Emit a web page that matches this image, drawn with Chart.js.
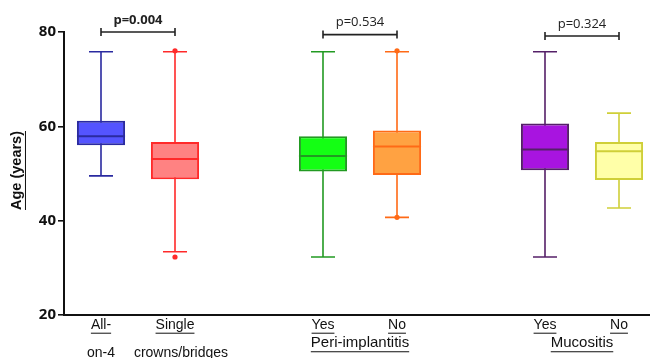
<!DOCTYPE html>
<html>
<head>
<meta charset="utf-8">
<script src="https://cdn.jsdelivr.net/npm/chart.js@4/dist/chart.umd.min.js"></script>
<style>
  body { margin: 0; background: #fff; overflow: hidden; }
  #wrap { width: 650px; height: 358px; overflow: hidden; }
</style>
</head>
<body>
<div id="wrap"><canvas id="chart" width="656" height="358"></canvas></div>
<script>
// groups (empty slots keep the gaps between the three comparisons)
let labels = ['All-on-4', 'Single crowns/bridges', '', 'Peri-implantitis yes', 'Peri-implantitis no', '', 'Mucositis yes', 'Mucositis no'];
let tickLines = [['All-', 'on-4'], ['Single', 'crowns/bridges'], [], ['Yes'], ['No'], [], ['Yes'], ['No']];
let groupNames = ['Peri-implantitis', 'Mucositis'];
let groupSpans = [[3, 4], [6, 7]];

// box plot values (years)
let minVals = [49.5, 33.4, null, 32.3, 40.7, null, 32.3, 42.7];
let q1Vals = [56.0, 48.8, null, 50.4, 49.7, null, 50.7, 48.6];
let medianVals = [57.9, 53.1, null, 53.7, 55.7, null, 55.1, 54.7];
let q3Vals = [61.2, 56.7, null, 57.9, 59.1, null, 60.6, 56.7];
let maxVals = [75.8, 75.8, null, 75.8, 75.8, null, 75.8, 62.8];
let outliers = [[], [76, 32.3], [], [], [76, 40.7], [], [], []];

// comparisons
let pLabels = ['p=0.004', 'p=0.534', 'p=0.324'];
let pPairs = [[0, 1], [3, 4], [6, 7]];
let pLevels = [80.0, 79.45, 79.15];

let yTicks = [20, 40, 60, 80];

let fillColors = ['#5454ff', '#ff8282', null, '#14ff14', '#ffa242', null, '#a814e0', '#ffffa8'];
let lineColors = ['#2a2aa0', '#ff2a2a', null, '#229a22', '#ff6a16', null, '#552068', '#cfcf38'];

function underlined(ctx, text, x, y) {
    ctx.fillText(text, x, y);
    let w = ctx.measureText(text).width;
    let fs = parseFloat(ctx.font.match(/(\d+(\.\d+)?)px/)[1]);
    ctx.fillRect(x - w / 2, y + fs * 0.55, w, 1);
}

let boxExtras = {
    id: 'boxExtras',
    beforeDatasetsDraw(chart) {
        let ctx = chart.ctx, x = chart.scales.x, y = chart.scales.y;
        ctx.save();
        ctx.lineWidth = 1.6;
        labels.forEach((l, i) => {
            if (minVals[i] == null) return;
            let px = x.getPixelForValue(i);
            ctx.strokeStyle = lineColors[i];
            ctx.beginPath();
            ctx.moveTo(px, y.getPixelForValue(maxVals[i]));
            ctx.lineTo(px, y.getPixelForValue(minVals[i]));
            [maxVals[i], minVals[i]].forEach(v => {
                let py = y.getPixelForValue(v);
                ctx.moveTo(px - 12, py);
                ctx.lineTo(px + 12, py);
            });
            ctx.stroke();
        });
        ctx.restore();
    },
    afterDatasetsDraw(chart) {
        let ctx = chart.ctx, x = chart.scales.x, y = chart.scales.y;
        let meta = chart.getDatasetMeta(0);
        ctx.save();
        labels.forEach((l, i) => {
            if (medianVals[i] == null) return;
            let bar = meta.data[i];
            let px = x.getPixelForValue(i);
            let py = y.getPixelForValue(medianVals[i]);
            ctx.strokeStyle = lineColors[i];
            ctx.lineWidth = 2;
            ctx.beginPath();
            ctx.moveTo(px - bar.width / 2, py);
            ctx.lineTo(px + bar.width / 2, py);
            ctx.stroke();
            ctx.fillStyle = lineColors[i];
            outliers[i].forEach(v => {
                ctx.beginPath();
                ctx.arc(px, y.getPixelForValue(v), 2.6, 0, Math.PI * 2);
                ctx.fill();
            });
        });
        ctx.restore();
    },
    afterDraw(chart) {
        let ctx = chart.ctx, x = chart.scales.x, y = chart.scales.y;
        ctx.save();
        // significance brackets
        ctx.strokeStyle = '#222';
        ctx.fillStyle = '#222';
        ctx.lineWidth = 1.6;
        ctx.textAlign = 'center';
        ctx.textBaseline = 'middle';
        pPairs.forEach((pair, k) => {
            let x1 = x.getPixelForValue(pair[0]);
            let x2 = x.getPixelForValue(pair[1]);
            let py = y.getPixelForValue(pLevels[k]);
            ctx.beginPath();
            ctx.moveTo(x1, py); ctx.lineTo(x2, py);
            ctx.moveTo(x1, py - 4); ctx.lineTo(x1, py + 4);
            ctx.moveTo(x2, py - 4); ctx.lineTo(x2, py + 4);
            ctx.stroke();
            ctx.font = (k == 0 ? 'bold ' : '') + '13px "Open Sans"';
            ctx.fillText(pLabels[k], (x1 + x2) / 2, py - 12);
        });

        // category labels under the axis
        let base = chart.chartArea.bottom;
        ctx.fillStyle = '#111';
        ctx.font = '14px "Liberation Sans"';
        tickLines.forEach((lines, i) => {
            let px = x.getPixelForValue(i);
            lines.forEach((t, j) => {
                let dx = (i == 1 && j == 1) ? 6 : 0;
                underlined(ctx, t, px + dx, base + 10 + j * 28);
            });
        });
        ctx.font = '15px "Liberation Sans"';
        groupSpans.forEach((span, k) => {
            let px = (x.getPixelForValue(span[0]) + x.getPixelForValue(span[1])) / 2;
            underlined(ctx, groupNames[k], px, base + 28);
        });

        // y axis title
        ctx.translate(17, (chart.chartArea.top + chart.chartArea.bottom) / 2 - 3);
        ctx.rotate(-Math.PI / 2);
        ctx.font = 'bold 14.5px "Liberation Sans"';
        underlined(ctx, 'Age (years)', 0, 0);
        ctx.restore();
    }
};

chart = new Chart(document.getElementById('chart'), {
    type: 'bar',
    data: {
        labels: labels,
        datasets: [{
            data: labels.map((l, i) => q1Vals[i] == null ? null : [q1Vals[i], q3Vals[i]]),
            backgroundColor: fillColors,
            borderColor: lineColors,
            borderWidth: 2,
            borderSkipped: false,
            barPercentage: 0.65,
            categoryPercentage: 1
        }]
    },
    options: {
        responsive: false,
        animation: false,
        devicePixelRatio: 1,
        layout: { padding: { top: 32, left: 0, right: 0, bottom: 0 } },
        plugins: { legend: { display: false }, tooltip: { enabled: false } },
        scales: {
            x: {
                grid: { display: false },
                ticks: { display: false },
                border: { color: '#111', width: 2 },
                afterFit: s => { s.height = 43; }
            },
            y: {
                min: 20,
                max: 80,
                afterBuildTicks: s => { s.ticks = yTicks.map(v => ({ value: v })); },
                ticks: {
                    color: '#111',
                    padding: 2,
                    font: { family: 'Open Sans', size: 15, weight: 'bold' }
                },
                grid: { drawOnChartArea: false, tickLength: 6, color: '#111', lineWidth: 1.6 },
                border: { color: '#111', width: 2 },
                afterFit: s => { s.width = 64; }
            }
        }
    },
    plugins: [boxExtras]
});
</script>
</body>
</html>
